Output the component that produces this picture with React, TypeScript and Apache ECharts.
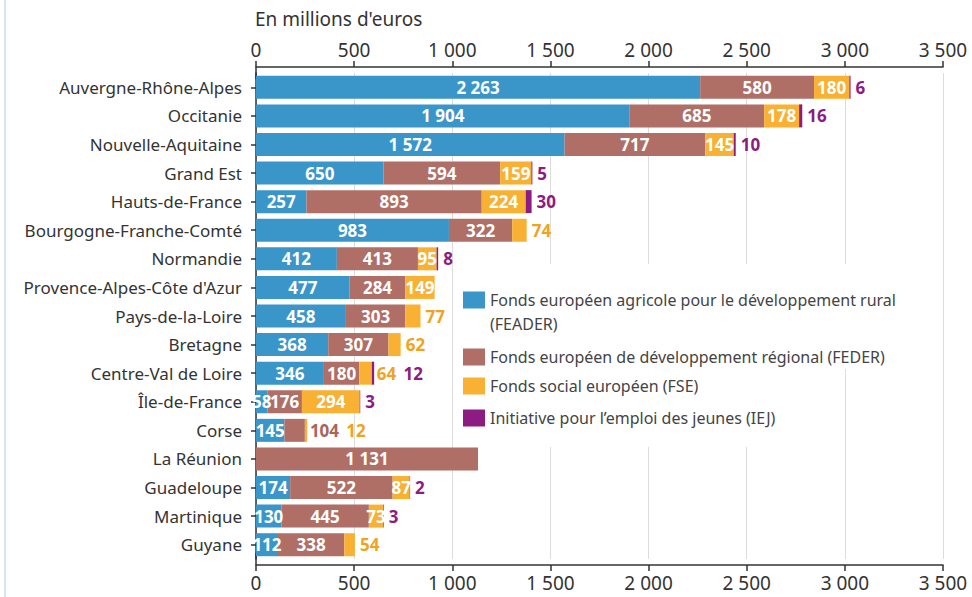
import React, { useEffect, useRef } from "react";
import * as echarts from "echarts";

const categories = [
  "Auvergne-Rhône-Alpes",
  "Occitanie",
  "Nouvelle-Aquitaine",
  "Grand Est",
  "Hauts-de-France",
  "Bourgogne-Franche-Comté",
  "Normandie",
  "Provence-Alpes-Côte d'Azur",
  "Pays-de-la-Loire",
  "Bretagne",
  "Centre-Val de Loire",
  "Île-de-France",
  "Corse",
  "La Réunion",
  "Guadeloupe",
  "Martinique",
  "Guyane",
];

const feader = [2263, 1904, 1572, 650, 257, 983, 412, 477, 458, 368, 346, 58, 145, 0, 174, 130, 112];
const feder = [580, 685, 717, 594, 893, 322, 413, 284, 303, 307, 180, 176, 104, 1131, 522, 445, 338];
const fse = [180, 178, 145, 159, 224, 74, 95, 149, 77, 62, 64, 294, 12, 0, 87, 73, 54];
const iej = [6, 16, 10, 5, 30, 0, 8, 0, 0, 0, 12, 3, 0, 0, 2, 3, 0];

const seriesNames = [
  "Fonds européen agricole pour le développement rural (FEADER)",
  "Fonds européen de développement régional (FEDER)",
  "Fonds social européen (FSE)",
  "Initiative pour l’emploi des jeunes (IEJ)",
];

const xTicks = [0, 500, 1000, 1500, 2000, 2500, 3000, 3500];

// which labels sit outside the bar (style choice)
const outsideLabels: string[][] = [
  [],
  ["Corse"],
  ["Bourgogne-Franche-Comté", "Pays-de-la-Loire", "Bretagne", "Centre-Val de Loire", "Corse", "Guyane"],
  categories,
];

const barColors = ["#3a96c9", "#b06f66", "#f8b133", "#8c1b82"];
const outsideTextColors = ["#3a96c9", "#a8655d", "#f0a31e", "#8c1b82"];

const FONT = "'Noto Sans', sans-serif";

const fmt = (v: number) => String(v).replace(/\B(?=(\d{3})+(?!\d))/g, " ");

export default function App() {
  const ref = useRef<HTMLDivElement>(null);

  useEffect(() => {
    if (!ref.current) return;
    const chart = echarts.init(ref.current, undefined, { renderer: "svg" });
    const allValues = [feader, feder, fse, iej];

    const isOutside = (s: number, i: number) =>
      allValues[s][i] > 0 && outsideLabels[s].indexOf(categories[i]) >= 0;

    const series = allValues.map((vals, s) => ({
      name: seriesNames[s],
      type: "bar",
      stack: "total",
      barWidth: 23,
      itemStyle: { color: barColors[s] },
      data: vals.map((v, i) => {
        if (!v) return { value: v, label: { show: false } };
        if (isOutside(s, i)) {
          let off = 0;
          if (s > 0 && isOutside(s - 1, i)) {
            off = fmt(allValues[s - 1][i]).length * 9.7 + 5;
          }
          return {
            value: v,
            label: {
              show: true,
              position: "right",
              distance: 5,
              offset: [off, 0],
              color: outsideTextColors[s],
              fontWeight: "bold",
              fontSize: 17,
              fontFamily: FONT,
              formatter: () => fmt(v),
            },
          };
        }
        return {
          value: v,
          label: {
            show: true,
            position: "inside",
            color: "#ffffff",
            fontWeight: "bold",
            fontSize: 17,
            fontFamily: FONT,
            formatter: () => fmt(v),
          },
        };
      }),
    }));

    const xAxisCommon = {
      type: "value",
      min: xTicks[0],
      max: xTicks[xTicks.length - 1],
      interval: xTicks[1] - xTicks[0],
      offset: 6,
      axisLine: { show: true, lineStyle: { color: "#333", width: 1.5 } },
      axisTick: { show: true, length: 6, lineStyle: { color: "#333", width: 1.5 } },
      axisLabel: {
        margin: 8,
        color: "#333",
        fontSize: 19,
        fontFamily: FONT,
        formatter: (v: number) => fmt(v),
      },
    };

    chart.setOption({
      animation: false,
      title: {
        text: "En millions d'euros",
        left: 250,
        top: 4,
        textStyle: { fontSize: 19, fontWeight: "normal", color: "#333", fontFamily: FONT },
      },
      grid: { left: 256, right: 29, top: 73, bottom: 38, containLabel: false },
      xAxis: [
        {
          ...xAxisCommon,
          position: "top",
          splitLine: { show: true, lineStyle: { color: "#dcdcdc", width: 1 } },
        },
        {
          ...xAxisCommon,
          position: "bottom",
          splitLine: { show: false },
        },
      ],
      yAxis: {
        type: "category",
        data: categories,
        inverse: true,
        axisLine: {
          show: true,
          lineStyle: { color: "#333", width: 1.5 },
          symbol: ["rect", "rect"],
          symbolSize: [1.5, 12],
        },
        axisTick: { show: true, alignWithLabel: true, length: 5, lineStyle: { color: "#333", width: 1.5 } },
        axisLabel: { margin: 14, color: "#333", fontSize: 17, fontFamily: FONT },
      },
      legend: [
        {
          orient: "vertical",
          left: 455,
          top: 264,
          padding: [0, 24, 0, 8],
          backgroundColor: "#ffffff",
          itemWidth: 22,
          itemHeight: 17,
          itemGap: 9,
          icon: "rect",
          textStyle: { fontSize: 16, lineHeight: 24, color: "#444", fontFamily: FONT },
          formatter: (name: string) =>
            name.indexOf("(FEADER)") >= 0
              ? "\u00a0\n" + name.replace(" (FEADER)", "\n(FEADER)")
              : name,
          data: [{ name: seriesNames[0] }, { name: seriesNames[1] }],
        },
        {
          orient: "vertical",
          left: 455,
          top: 368,
          padding: [6, 40, 17, 8],
          backgroundColor: "#ffffff",
          itemWidth: 22,
          itemHeight: 17,
          itemGap: 8,
          icon: "rect",
          textStyle: { fontSize: 16, lineHeight: 24, color: "#444", fontFamily: FONT },
          data: [{ name: seriesNames[2] }, { name: seriesNames[3] }],
        },
      ],
      graphic: [
        {
          type: "rect",
          left: 4,
          top: 0,
          shape: { width: 2, height: 597 },
          style: { fill: "#d3e3f0" },
          silent: true,
        },
      ],
      series,
    });

    return () => chart.dispose();
  }, []);

  return (
    <div
      ref={ref}
      style={{ position: "fixed", left: 0, top: 0, width: 972, height: 597, background: "#fff" }}
    />
  );
}
